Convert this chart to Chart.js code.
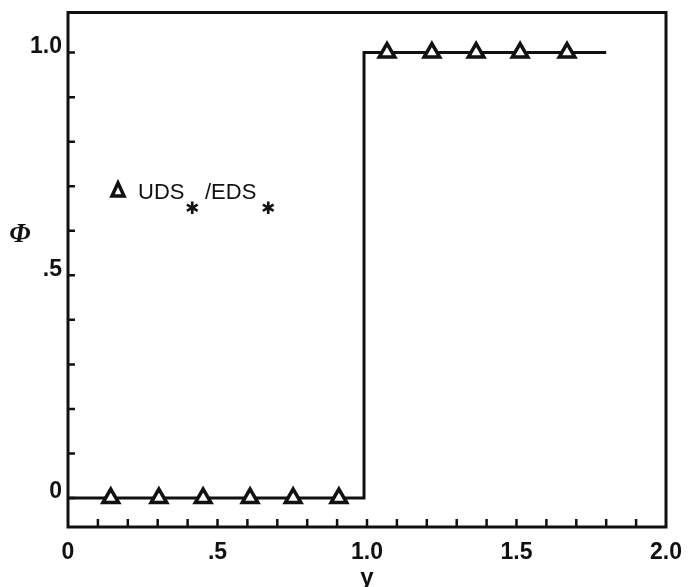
<!DOCTYPE html>
<html>
<head>
<meta charset="utf-8">
<style>
  html, body { margin: 0; padding: 0; background: #fff; }
  #wrap { width: 698px; height: 587px; }
</style>
<script src="https://cdn.jsdelivr.net/npm/chart.js@4/dist/chart.umd.min.js"></script>
</head>
<body>
<div id="wrap"><canvas id="chart" width="698" height="587"></canvas></div>
<script>
// step profile (exact solution)
const stepX = [0, 0.99, 0.99, 1.8];
const stepY = [0, 0, 1, 1];

// UDS / EDS markers (triangles)
const udsX = [0.143, 0.304, 0.452, 0.609, 0.753, 0.906, 1.067, 1.217, 1.365, 1.512, 1.669];
const udsY = [0, 0, 0, 0, 0, 0, 1, 1, 1, 1, 1];

// labelled ticks
const xLabelVals = [0, 0.5, 1, 1.5, 2];
const xLabelText = ["0", ".5", "1.0", "1.5", "2.0"];
const yLabelVals = [0, 0.5, 1];
const yLabelText = ["0", ".5", "1.0"];

const INK = "#111";
const FONT = "'Liberation Sans', Arial, sans-serif";

const pts = (xs, ys) => xs.map((x, i) => ({ x, y: ys[i] }));

function labelFor(vals, texts, v){
  const i = vals.findIndex(t => Math.abs(t - v) < 1e-6);
  return i >= 0 ? texts[i] : "";
}
function isTenth(v){
  return Math.abs(v * 10 - Math.round(v * 10)) < 1e-6;
}

const framePlugin = {
  id: "frame",
  afterDraw(chart){
    const { ctx, chartArea: a, scales } = chart;
    const xs = scales.x, ys = scales.y;
    ctx.save();
    ctx.strokeStyle = INK;
    ctx.lineWidth = 3;
    ctx.strokeRect(a.left, a.top, a.right - a.left, a.bottom - a.top);

    // inward ticks every 0.1
    ctx.lineWidth = 2.5;
    ctx.beginPath();
    for(const t of xs.ticks){
      if(!isTenth(t.value) || t.value <= 0 || t.value >= 2) continue;
      const px = xs.getPixelForValue(t.value);
      ctx.moveTo(px, a.bottom);
      ctx.lineTo(px, a.bottom - 8);
    }
    for(const t of ys.ticks){
      if(!isTenth(t.value) || t.value < 0) continue;
      const py = ys.getPixelForValue(t.value);
      ctx.moveTo(a.left, py);
      ctx.lineTo(a.left + 7, py);
    }
    ctx.stroke();

    // axis titles
    ctx.fillStyle = INK;
    ctx.textAlign = "center";
    ctx.textBaseline = "alphabetic";
    ctx.font = "bold 24px " + FONT;
    ctx.fillText("y", xs.getPixelForValue(1), 585);
    ctx.font = "italic bold 27px 'Liberation Serif', serif";
    ctx.fillText("\u03A6", a.left - 48, ys.getPixelForValue(0.59) + 7);

    // legend
    const lx = a.left + 50, ly = 190;
    ctx.lineWidth = 3.5;
    ctx.lineJoin = "miter";
    ctx.beginPath();
    ctx.moveTo(lx, ly - 7);
    ctx.lineTo(lx + 6, ly + 6);
    ctx.lineTo(lx - 6, ly + 6);
    ctx.closePath();
    ctx.stroke();
    ctx.textAlign = "left";
    ctx.font = "22px " + FONT;
    ctx.fillText("UDS", a.left + 70, 199);
    ctx.fillText("/EDS", a.left + 137, 199);
    ctx.textAlign = "center";
    ctx.font = "bold 17px 'DejaVu Sans', sans-serif";
    ctx.fillText("\u2731", a.left + 124, 214);
    ctx.fillText("\u2731", a.left + 200, 214);
    ctx.restore();
  }
};

new Chart(document.getElementById("chart"), {
  type: "scatter",
  data: {
    datasets: [
      {
        label: "UDS/EDS",
        data: pts(udsX, udsY),
        showLine: false,
        pointStyle: "triangle",
        pointRadius: 9,
        pointBorderWidth: 3.5,
        pointBorderColor: INK,
        pointBackgroundColor: "#fff",
        order: 0
      },
      {
        label: "exact",
        data: pts(stepX, stepY),
        showLine: true,
        borderColor: INK,
        borderWidth: 3,
        pointRadius: 0,
        tension: 0,
        order: 1
      }
    ]
  },
  options: {
    responsive: false,
    animation: false,
    devicePixelRatio: 1,
    layout: { padding: { top: 12, right: 32, left: 0, bottom: 0 } },
    plugins: { legend: { display: false }, tooltip: { enabled: false } },
    scales: {
      x: {
        type: "linear",
        min: 0,
        max: 2,
        afterFit(s){ s.height = 60; s.paddingLeft = 0; s.paddingRight = 0; },
        grid: { display: false, drawTicks: false },
        border: { display: false },
        ticks: {
          stepSize: 0.1,
          autoSkip: false,
          maxRotation: 0,
          padding: 12,
          color: INK,
          font: { family: FONT, size: 23, weight: "bold" },
          callback: (v) => labelFor(xLabelVals, xLabelText, v)
        }
      },
      y: {
        min: -0.065,
        max: 1.09,
        afterFit(s){ s.width = 68; s.paddingTop = 0; s.paddingBottom = 0; },
        grid: { display: false, drawTicks: false },
        border: { display: false },
        ticks: {
          stepSize: 0.1,
          autoSkip: false,
          padding: 6,
          labelOffset: -6,
          color: INK,
          font: { family: FONT, size: 23, weight: "bold" },
          callback: (v) => labelFor(yLabelVals, yLabelText, v)
        }
      }
    }
  },
  plugins: [framePlugin]
});
</script>
</body>
</html>
